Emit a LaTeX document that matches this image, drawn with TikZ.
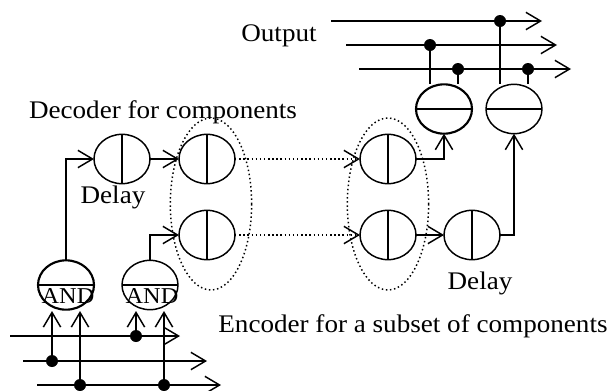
\documentclass[tikz,border=0pt]{standalone}
\usepackage{fontspec}
\setmainfont[FakeStretch=1.07]{Liberation Serif}
\usepackage{tikz}
\usetikzlibrary{arrows.meta,shapes.geometric}

\begin{document}
\begin{tikzpicture}[
  x=0.75pt, y=-0.75pt, line width=1.1pt, font=\fontsize{19}{22}\selectfont,
  arr/.style={-{Straight Barb[length=11pt, width=13pt]}, line width=1.1pt},
  comp/.style={ellipse, draw, inner sep=0pt, outer sep=0pt, minimum width=42pt, minimum height=37pt},
  thickcomp/.style={comp, line width=1.6pt},
  group/.style={ellipse, draw, dotted, inner sep=0pt, minimum width=61pt, minimum height=129pt},
  tap/.style={circle, fill=black, inner sep=0pt, minimum size=9pt},
  lbl/.style={inner sep=0pt},
  andlbl/.style={lbl, font=\fontsize{17}{20}\selectfont}
]
\useasboundingbox (0,0) rectangle (613,390);

% Dotted groups
\node[group] (decgroup) at (211,204) {};
\node[group] (encgroup) at (388,204) {};

% Decoder side
\node[comp] (delayL) at (122,159) {};
\node[comp] (decA) at (207,159) {};
\node[comp] (decB) at (207,235) {};
\node[thickcomp] (andA) at (66,285) {};
\node[comp] (andB) at (150,285) {};

% Encoder side
\node[comp] (encA) at (388,159) {};
\node[comp] (encB) at (388,235) {};
\node[comp] (delayR) at (472,235) {};
\node[thickcomp] (outA) at (444,109) {};
\node[comp] (outB) at (514,109) {};

% Dividers
\foreach \n in {delayL,decA,decB,encA,encB,delayR} {
  \draw (\n.north) -- (\n.south);
}
\draw[line width=1.6pt] (andA.west) -- (andA.east);
\draw (andB.west) -- (andB.east);
\draw[line width=1.6pt] (outA.west) -- (outA.east);
\draw (outB.west) -- (outB.east);

% Labels
\node[andlbl] (andtextA) at (68,296) {AND};
\node[andlbl] (andtextB) at (152,296) {AND};
\node[lbl] (delaytextL) at (113,197) {Delay};
\node[lbl] (delaytextR) at (480,283) {Delay};
\node[lbl] (outtext) at (279,36) {Output};
\node[lbl] (dectext) at (163,112) {Decoder for components};
\node[lbl] (enctext) at (413,326) {Encoder for a subset of components};

% Top bus
\coordinate (topAs) at (331,21);
\coordinate (topAe) at (542,21);
\coordinate (topBs) at (346,45);
\coordinate (topBe) at (557,45);
\coordinate (topCs) at (359,69);
\coordinate (topCe) at (571,69);
\foreach \s/\e in {topAs/topAe,topBs/topBe,topCs/topCe} {
  \draw[arr] (\s) -- (\e);
}
\node[tap] (tapA) at (500,21) {};
\node[tap] (tapB) at (430,45) {};
\node[tap] (tapC) at (458,69) {};
\node[tap] (tapD) at (528,69) {};
\coordinate (inA) at (430,84);
\coordinate (inB) at (458,84);
\coordinate (inC) at (500,84);
\coordinate (inD) at (528,84);
\draw (tapB.center) -- (inA);
\draw (tapC.center) -- (inB);
\draw (tapA.center) -- (inC);
\draw (tapD.center) -- (inD);

% Bottom bus
\coordinate (lowAs) at (10,336);
\coordinate (lowAe) at (180,336);
\coordinate (lowBs) at (23,361);
\coordinate (lowBe) at (207,361);
\coordinate (lowCs) at (37,385);
\coordinate (lowCe) at (221,385);
\foreach \s/\e in {lowAs/lowAe,lowBs/lowBe,lowCs/lowCe} {
  \draw[arr] (\s) -- (\e);
}
\node[tap] (tapE) at (136,336) {};
\node[tap] (tapF) at (52,361) {};
\node[tap] (tapG) at (80,385) {};
\node[tap] (tapH) at (164,385) {};
\coordinate (upA) at (52,311);
\coordinate (upB) at (80,311);
\coordinate (upC) at (136,311);
\coordinate (upD) at (164,311);
\draw[arr] (tapF.center) -- (upA);
\draw[arr] (tapG.center) -- (upB);
\draw[arr] (tapE.center) -- (upC);
\draw[arr] (tapH.center) -- (upD);

% Connectors
\draw[arr] (andA.north) |- (delayL.west);
\draw[arr] (andB.north) |- (decB.west);
\draw[arr] (delayL.east) -- (decA.west);
\draw[arr, dotted] (decA.east) -- (encA.west);
\draw[arr, dotted] (decB.east) -- (encB.west);
\draw[arr] (encA.east) -| (outA.south);
\draw[arr] (encB.east) -- (delayR.west);
\draw[arr] (delayR.east) -| (outB.south);

\end{tikzpicture}
\end{document}
